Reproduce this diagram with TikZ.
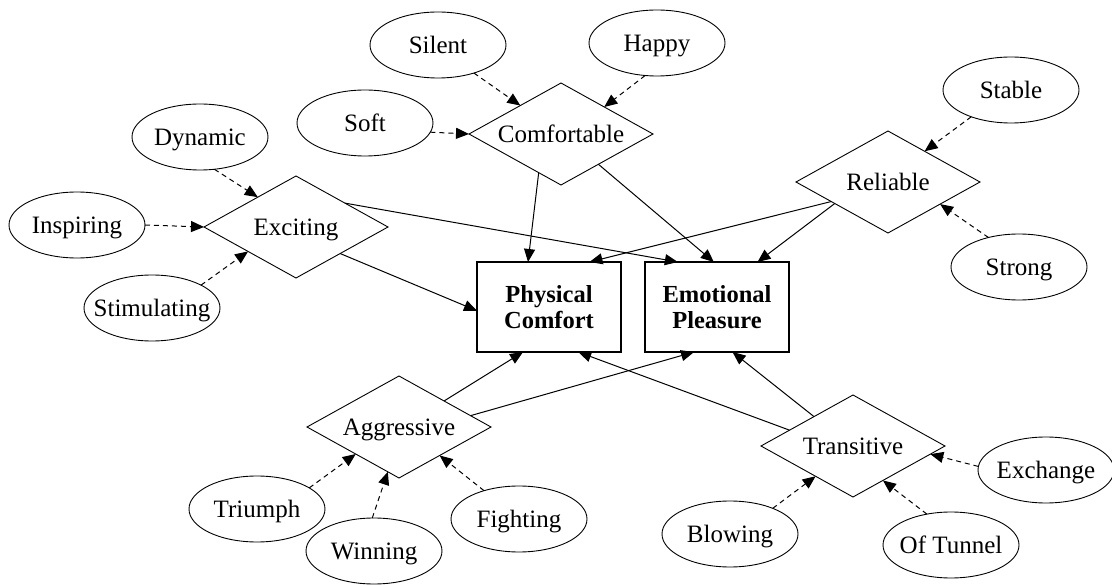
\documentclass[tikz,border=0pt]{standalone}
\usepackage{fontspec}
\setmainfont{Liberation Serif}
\usetikzlibrary{shapes.geometric,arrows.meta}
\newcommand\ztxt[1]{\makebox[0pt]{\raisebox{-.33em}[0pt][0pt]{#1}}}
\begin{document}
\begin{tikzpicture}[x=1pt,y=-1pt,
  every node/.style={font=\fontsize{25}{27}\selectfont, inner sep=0pt, outer sep=0pt},
  ell/.style={ellipse, draw, line width=0.9pt, minimum width=136pt, minimum height=66pt},
  dia/.style={diamond, draw, line width=0.9pt, minimum width=184pt, minimum height=102pt},
  box/.style={rectangle, draw, line width=1.1pt, minimum width=144pt, minimum height=90pt, align=center, font=\fontsize{24.5}{26}\selectfont\bfseries},
  dedge/.style={dash pattern=on 5pt off 4pt, line width=1pt, -{Triangle[length=13pt,width=11pt]}},
  sedge/.style={line width=1pt, -{Triangle[length=13pt,width=11pt]}}
]
\useasboundingbox (0,0) rectangle (1112,585);
% nodes
\node[ell] (silent) at (438,45) {\ztxt{Silent}};
\node[ell] (happy) at (657,43) {\ztxt{Happy}};
\node[ell] (soft) at (365,123) {\ztxt{Soft}};
\node[dia] (comf) at (561,134) {\ztxt{Comfortable}};
\node[ell] (dyn) at (200,137) {\ztxt{Dynamic}};
\node[ell] (insp) at (77,225) {\ztxt{Inspiring}};
\node[ell] (stim) at (152,308) {\ztxt{Stimulating}};
\node[dia] (exc) at (296,227) {\ztxt{Exciting}};
\node[ell] (stable) at (1011,90) {\ztxt{Stable}};
\node[ell] (strong) at (1019,267) {\ztxt{Strong}};
\node[dia] (rel) at (888,182) {\ztxt{Reliable}};
\node[box] (phys) at (549,307) {Physical\\Comfort};
\node[box] (emo) at (717,307) {Emotional\\Pleasure};
\node[dia] (agg) at (399,427) {\ztxt{Aggressive}};
\node[ell] (tri) at (257,509) {\ztxt{Triumph}};
\node[ell] (win) at (374,551) {\ztxt{Winning}};
\node[ell] (fig) at (519,519) {\ztxt{Fighting}};
\node[dia] (tra) at (853,446) {\ztxt{Transitive}};
\node[ell] (exch) at (1046,470) {\ztxt{Exchange}};
\node[ell] (blow) at (730,534) {\ztxt{Blowing}};
\node[ell] (tun) at (951,545) {\ztxt{Of Tunnel}};
% dashed edges
\draw[dedge] (silent.-38) -- (comf.145.7);
\draw[dedge] (happy.250.6) -- (comf.32.7);
\draw[dedge] (soft.-8.7) -- (comf.180);
\draw[dedge] (dyn.-66.6) -- (exc.142.7);
\draw[dedge] (insp.0) -- (exc.180);
\draw[dedge] (stim.25.2) -- (exc.207.5);
\draw[dedge] (stable.214.3) -- (rel.40.1);
\draw[dedge] (strong.136.8) -- (rel.-23.1);
\draw[dedge] (tri.22.5) -- (agg.212.5);
\draw[dedge] (win.93.7) -- (agg.256.5);
\draw[dedge] (fig.141.1) -- (agg.-35.8);
\draw[dedge] (blow.31.2) -- (tra.219.2);
\draw[dedge] (tun.128) -- (tra.-49.4);
\draw[dedge] (exch.177.5) -- (tra.-6.8);
% solid edges
\draw[sedge] (comf.240.7) -- (phys.115.1);
\draw[sedge] (comf.-39.4) -- (emo.94.8);
\draw[sedge] (exc.-31.9) -- (phys.183.2);
\draw[sedge] (exc.26.1) -- (emo.131.3);
\draw[sedge] (rel.199) -- (phys.48.7);
\draw[sedge] (rel.202.2) -- (emo.48.9);
\draw[sedge] (agg.30.6) -- (phys.240.1);
\draw[sedge] (agg.9.3) -- (emo.243.9);
\draw[sedge] (tra.166.4) -- (phys.-57.1);
\draw[sedge] (tra.143.8) -- (emo.-71.2);
\end{tikzpicture}
\end{document}
